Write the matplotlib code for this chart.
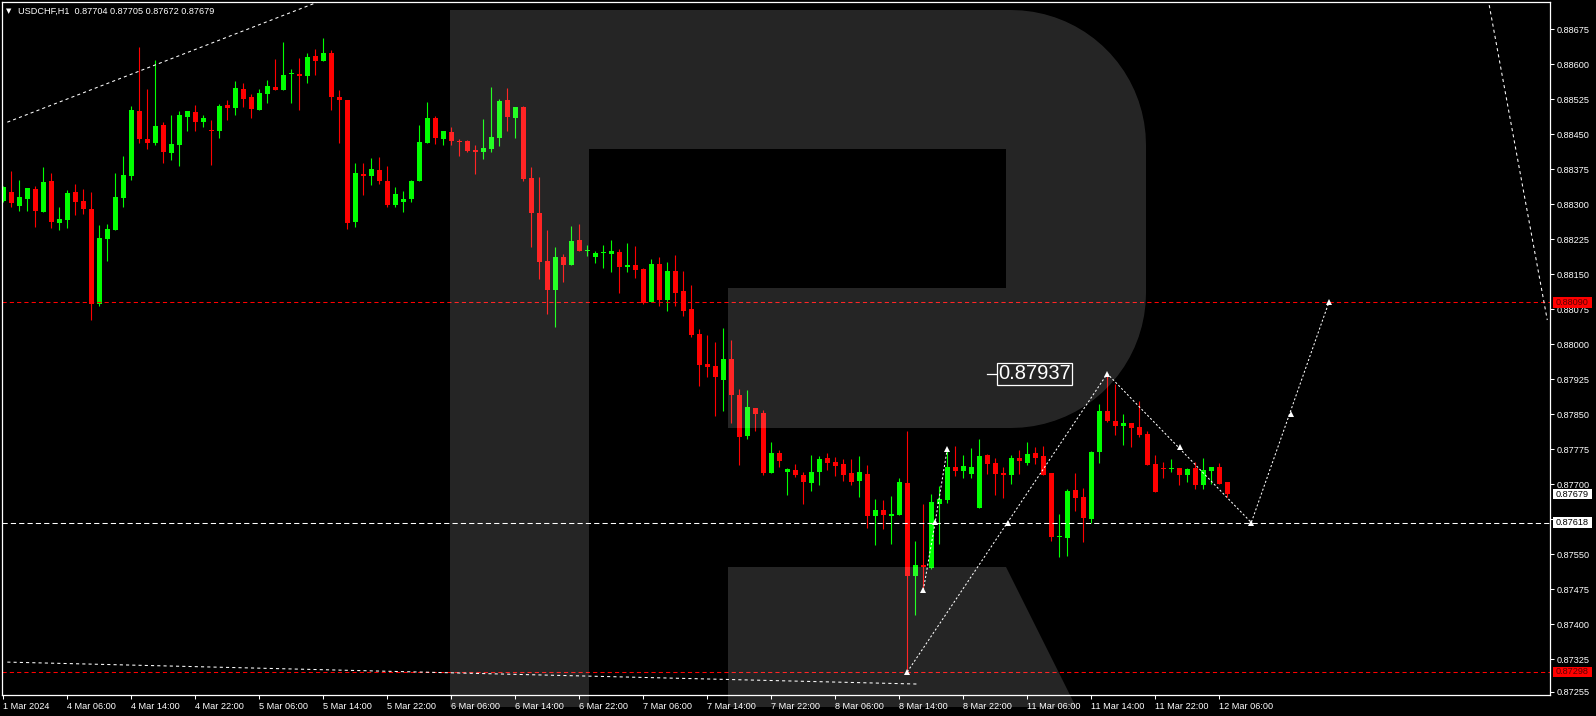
import numpy as np
import matplotlib
matplotlib.use("Agg")
import matplotlib.pyplot as plt
from matplotlib.path import Path
from matplotlib.patches import PathPatch, Rectangle
from matplotlib.transforms import Affine2D

plt.rcParams["font.family"] = ["Liberation Sans", "DejaVu Sans"]

# USDCHF H1 candles (index 0 = 1 Mar 22:00)
opens = [
    0.88308, 0.88326, 0.88297, 0.88311, 0.88333, 0.88284, 0.88350, 0.88261, 0.88266, 0.88326,
    0.88307, 0.88290, 0.88087, 0.88226, 0.88246, 0.88314, 0.88361, 0.88500, 0.88440, 0.88432,
    0.88470, 0.88411, 0.88428, 0.88488, 0.88498, 0.88477, 0.88459, 0.88458, 0.88513, 0.88507,
    0.88547, 0.88530, 0.88503, 0.88537, 0.88551, 0.88546, 0.88579, 0.88579, 0.88576, 0.88618,
    0.88608, 0.88624, 0.88530, 0.88524, 0.88263, 0.88366, 0.88361, 0.88374, 0.88350, 0.88299,
    0.88306, 0.88312, 0.88349, 0.88431, 0.88485, 0.88440, 0.88455, 0.88436, 0.88436, 0.88417,
    0.88413, 0.88419, 0.88443, 0.88524, 0.88484, 0.88509, 0.88356, 0.88281, 0.88178, 0.88117,
    0.88187, 0.88171, 0.88224, 0.88199, 0.88188, 0.88195, 0.88194, 0.88198, 0.88166, 0.88170,
    0.88161, 0.88091, 0.88172, 0.88096, 0.88157, 0.88114, 0.88076, 0.88022, 0.87958, 0.87954,
    0.87924, 0.87969, 0.87891, 0.87804, 0.87864, 0.87853, 0.87725, 0.87767, 0.87727, 0.87731,
    0.87720, 0.87703, 0.87726, 0.87756, 0.87748, 0.87744, 0.87724, 0.87707, 0.87722, 0.87632,
    0.87645, 0.87632, 0.87634, 0.87703, 0.87504, 0.87527, 0.87521, 0.87658, 0.87666, 0.87737,
    0.87729, 0.87722, 0.87649, 0.87763, 0.87746, 0.87724, 0.87719, 0.87756, 0.87746, 0.87767,
    0.87761, 0.87724, 0.87588, 0.87586, 0.87688, 0.87673, 0.87626, 0.87770, 0.87857, 0.87836,
    0.87824, 0.87831, 0.87823, 0.87808, 0.87744, 0.87734, 0.87732, 0.87735, 0.87721, 0.87734,
    0.87699, 0.87729, 0.87737, 0.87704,
]
highs = [
    0.88340, 0.88371, 0.88352, 0.88336, 0.88340, 0.88380, 0.88367, 0.88294, 0.88331, 0.88344,
    0.88333, 0.88326, 0.88256, 0.88258, 0.88367, 0.88404, 0.88511, 0.88637, 0.88547, 0.88609,
    0.88476, 0.88491, 0.88500, 0.88500, 0.88513, 0.88491, 0.88481, 0.88515, 0.88524, 0.88564,
    0.88560, 0.88536, 0.88547, 0.88566, 0.88611, 0.88648, 0.88590, 0.88614, 0.88624, 0.88633,
    0.88656, 0.88631, 0.88545, 0.88524, 0.88389, 0.88389, 0.88399, 0.88401, 0.88382, 0.88337,
    0.88329, 0.88352, 0.88470, 0.88519, 0.88489, 0.88457, 0.88466, 0.88440, 0.88438, 0.88427,
    0.88483, 0.88551, 0.88526, 0.88549, 0.88509, 0.88511, 0.88380, 0.88359, 0.88245, 0.88209,
    0.88194, 0.88254, 0.88258, 0.88213, 0.88200, 0.88213, 0.88224, 0.88204, 0.88217, 0.88211,
    0.88164, 0.88183, 0.88187, 0.88176, 0.88191, 0.88157, 0.88127, 0.88033, 0.88020, 0.88005,
    0.88035, 0.88009, 0.87904, 0.87902, 0.87864, 0.87859, 0.87791, 0.87773, 0.87735, 0.87744,
    0.87726, 0.87763, 0.87761, 0.87767, 0.87759, 0.87754, 0.87754, 0.87761, 0.87741, 0.87669,
    0.87666, 0.87675, 0.87714, 0.87814, 0.87579, 0.87658, 0.87679, 0.87696, 0.87774, 0.87782,
    0.87763, 0.87778, 0.87797, 0.87765, 0.87756, 0.87737, 0.87763, 0.87774, 0.87791, 0.87780,
    0.87782, 0.87724, 0.87637, 0.87690, 0.87724, 0.87692, 0.87771, 0.87872, 0.87937, 0.87915,
    0.87851, 0.87831, 0.87878, 0.87814, 0.87763, 0.87748, 0.87754, 0.87736, 0.87734, 0.87748,
    0.87756, 0.87737, 0.87746, 0.87705,
]
lows = [
    0.88306, 0.88295, 0.88286, 0.88286, 0.88252, 0.88284, 0.88250, 0.88246, 0.88250, 0.88277,
    0.88280, 0.88052, 0.88083, 0.88179, 0.88246, 0.88295, 0.88353, 0.88432, 0.88419, 0.88428,
    0.88389, 0.88396, 0.88383, 0.88458, 0.88458, 0.88466, 0.88385, 0.88443, 0.88481, 0.88492,
    0.88509, 0.88486, 0.88503, 0.88518, 0.88544, 0.88546, 0.88518, 0.88503, 0.88561, 0.88578,
    0.88608, 0.88503, 0.88432, 0.88248, 0.88252, 0.88321, 0.88342, 0.88344, 0.88295, 0.88295,
    0.88284, 0.88306, 0.88349, 0.88431, 0.88430, 0.88428, 0.88428, 0.88404, 0.88413, 0.88366,
    0.88398, 0.88413, 0.88426, 0.88458, 0.88443, 0.88351, 0.88209, 0.88139, 0.88064, 0.88038,
    0.88134, 0.88169, 0.88199, 0.88190, 0.88175, 0.88164, 0.88156, 0.88111, 0.88156, 0.88143,
    0.88087, 0.88091, 0.88083, 0.88072, 0.88083, 0.88061, 0.88015, 0.87911, 0.87931, 0.87847,
    0.87858, 0.87832, 0.87742, 0.87798, 0.87815, 0.87721, 0.87725, 0.87738, 0.87677, 0.87716,
    0.87658, 0.87686, 0.87699, 0.87731, 0.87718, 0.87707, 0.87699, 0.87673, 0.87606, 0.87570,
    0.87604, 0.87572, 0.87634, 0.87298, 0.87420, 0.87474, 0.87519, 0.87572, 0.87660, 0.87718,
    0.87714, 0.87714, 0.87649, 0.87722, 0.87677, 0.87671, 0.87701, 0.87723, 0.87742, 0.87744,
    0.87719, 0.87579, 0.87545, 0.87547, 0.87643, 0.87577, 0.87618, 0.87746, 0.87834, 0.87806,
    0.87785, 0.87781, 0.87802, 0.87742, 0.87684, 0.87714, 0.87727, 0.87699, 0.87704, 0.87691,
    0.87691, 0.87701, 0.87701, 0.87672,
]
closes = [
    0.88338, 0.88303, 0.88316, 0.88335, 0.88286, 0.88348, 0.88263, 0.88269, 0.88324, 0.88306,
    0.88289, 0.88087, 0.88228, 0.88247, 0.88316, 0.88363, 0.88502, 0.88441, 0.88432, 0.88468,
    0.88413, 0.88429, 0.88491, 0.88500, 0.88477, 0.88485, 0.88458, 0.88511, 0.88507, 0.88549,
    0.88526, 0.88505, 0.88539, 0.88554, 0.88546, 0.88577, 0.88580, 0.88574, 0.88616, 0.88608,
    0.88624, 0.88529, 0.88524, 0.88261, 0.88367, 0.88361, 0.88376, 0.88349, 0.88299, 0.88322,
    0.88311, 0.88350, 0.88434, 0.88485, 0.88443, 0.88457, 0.88436, 0.88434, 0.88414, 0.88413,
    0.88421, 0.88444, 0.88521, 0.88488, 0.88509, 0.88355, 0.88282, 0.88177, 0.88117, 0.88187,
    0.88171, 0.88221, 0.88199, 0.88201, 0.88196, 0.88196, 0.88200, 0.88166, 0.88170, 0.88160,
    0.88089, 0.88172, 0.88096, 0.88157, 0.88111, 0.88072, 0.88021, 0.87956, 0.87952, 0.87931,
    0.87969, 0.87892, 0.87802, 0.87866, 0.87851, 0.87725, 0.87767, 0.87750, 0.87733, 0.87719,
    0.87706, 0.87726, 0.87754, 0.87746, 0.87739, 0.87720, 0.87705, 0.87726, 0.87632, 0.87645,
    0.87634, 0.87636, 0.87705, 0.87504, 0.87527, 0.87523, 0.87662, 0.87669, 0.87737, 0.87729,
    0.87739, 0.87737, 0.87761, 0.87744, 0.87722, 0.87719, 0.87756, 0.87749, 0.87765, 0.87757,
    0.87721, 0.87588, 0.87589, 0.87686, 0.87671, 0.87628, 0.87769, 0.87857, 0.87836, 0.87824,
    0.87831, 0.87821, 0.87806, 0.87742, 0.87684, 0.87732, 0.87736, 0.87721, 0.87733, 0.87698,
    0.87731, 0.87737, 0.87701, 0.87679,
]

time_labels = ["1 Mar 2024", "4 Mar 06:00", "4 Mar 14:00", "4 Mar 22:00", "5 Mar 06:00",
               "5 Mar 14:00", "5 Mar 22:00", "6 Mar 06:00", "6 Mar 14:00", "6 Mar 22:00",
               "7 Mar 06:00", "7 Mar 14:00", "7 Mar 22:00", "8 Mar 06:00", "8 Mar 14:00",
               "8 Mar 22:00", "11 Mar 06:00", "11 Mar 14:00", "11 Mar 22:00", "12 Mar 06:00"]
price_ticks = [0.88675, 0.88600, 0.88525, 0.88450, 0.88375, 0.88300, 0.88225, 0.88150,
               0.88075, 0.88000, 0.87925, 0.87850, 0.87775, 0.87700, 0.87625, 0.87550,
               0.87475, 0.87400, 0.87325, 0.87255]

# drawn levels and forecast
resistance = 0.88090
support = 0.87298
pivot = 0.87618
peak_label = 0.87937
forecast_x = [113, 138, 156, 165.7]
forecast_y = [0.87298, 0.87937, 0.87618, 0.88090]
forecast_mark_x = [113, 125.6, 138, 147.1, 156, 161, 165.7]
forecast_mark_y = [0.87298, 0.87618, 0.87937, 0.87781, 0.87618, 0.87850, 0.88090]
small_path_x = [115, 116.5, 118]
small_path_y = [0.87473, 0.87620, 0.87776]
channel_top_x = [0.5, 40.0]
channel_top_y = [0.88476, 0.88738]
channel_low_x = [0.5, 114.2]
channel_low_y = [0.87319, 0.87272]
channel_right_x = [185.6, 193.0]
channel_right_y = [0.88740, 0.88052]

o = np.array(opens); h = np.array(highs); l = np.array(lows); c = np.array(closes)
idx = np.arange(len(o))
up = c >= o

W, H = 1596, 716
fig = plt.figure(figsize=(W / 100, H / 100), dpi=100, facecolor="black")
ax = fig.add_axes([2.3 / W, 1 - 695 / H, (1550 - 2.3) / W, (695 - 2.3) / H])
ax.set_facecolor("black")
ax.set_xlim(-0.125, 193.34)
ax.set_ylim(0.872485, 0.887329)

green, red = "#00ff00", "#ff0000"
ax.vlines(idx[up], l[up], h[up], color=green, lw=0.8)
ax.vlines(idx[~up], l[~up], h[~up], color=red, lw=0.8)
body = np.maximum(np.abs(c - o), 0.000022)
ax.bar(idx, body, bottom=np.minimum(o, c), width=0.62,
       color=np.where(up, green, red), linewidth=0)

# levels
ax.axhline(resistance, color=red, lw=0.75, dashes=(4, 3))
ax.axhline(support, color=red, lw=0.75, dashes=(4, 3))
ax.axhline(pivot, color="white", lw=0.75, dashes=(5, 3))

# channel lines
for xs, ys in [(channel_top_x, channel_top_y), (channel_low_x, channel_low_y),
               (channel_right_x, channel_right_y)]:
    ax.plot(xs, ys, color="white", lw=0.75, dashes=(3, 3))

# forecast path
ax.plot(forecast_x, forecast_y, color="white", lw=0.75, dashes=(2, 2))
ax.plot(small_path_x, small_path_y, color="white", lw=0.75, dashes=(2, 2))
ax.plot(forecast_mark_x, forecast_mark_y, ls="none", marker="^", ms=4, color="white", mew=0)
ax.plot(small_path_x, small_path_y, ls="none", marker="^", ms=4, color="white", mew=0)

# price label near the peak
ax.plot([122.95, 124.2], [peak_label, peak_label], color="white", lw=0.9)
ax.text(128.9, peak_label, f"{peak_label:.5f}", ha="center", va="center", color="white",
        fontsize=14.5, bbox=dict(boxstyle="square,pad=0.08", facecolor="black",
                                 edgecolor="white", lw=0.9), zorder=6)

# axes styling
for sp in ax.spines.values():
    sp.set_color("white")
    sp.set_linewidth(0.9)
ax.yaxis.tick_right()
ax.set_yticks(price_ticks)
ax.set_yticklabels([f"{v:.5f}" for v in price_ticks])
ax.set_xticks(idx[::8])
ax.set_xticklabels(time_labels, ha="left")
ax.tick_params(colors="white", labelcolor="white", labelsize=6.6, length=3, width=0.75, pad=2)


def price_box(p, face, txt):
    tr = ax.get_yaxis_transform()
    ax.add_patch(Rectangle((1.0017, p - 0.000114), 0.0254, 0.000228, transform=tr,
                           facecolor=face, edgecolor="none", clip_on=False, zorder=5))
    ax.text(1.0144, p, f"{p:.5f}", transform=tr, ha="center", va="center", color=txt,
            fontsize=6.6, clip_on=False, zorder=6)


price_box(resistance, red, "#5a0000")
price_box(support, red, "#5a0000")
price_box(pivot, "white", "black")
price_box(c[-1], "white", "black")

# header
fig.text(9 / W, 1 - 11 / H, "▼", family="DejaVu Sans", fontsize=5, color="white",
         ha="center", va="center")
fig.text(18 / W, 1 - 11.5 / H,
         f"USDCHF,H1  {o[-1]:.5f} {h[-1]:.5f} {l[-1]:.5f} {c[-1]:.5f}",
         fontsize=6.6, color="white", ha="left", va="center")

# watermark "R"
r = 135
th = np.linspace(0, np.pi / 2, 20)
outer = [(450, 10), (1011, 10)]
outer += [(1011 + r * np.sin(t), 145 - r * np.cos(t)) for t in th]
outer += [(1146, 293)]
outer += [(1011 + r * np.cos(t), 293 + r * np.sin(t)) for t in th]
outer += [(728, 428), (728, 288), (1006, 288), (1006, 149), (589, 149), (589, 707),
          (450, 707), (450, 10)]
leg = [(728, 567), (1006, 567), (1076, 707), (728, 707), (728, 567)]
verts = outer + leg
codes = ([Path.MOVETO] + [Path.LINETO] * (len(outer) - 2) + [Path.CLOSEPOLY]
         + [Path.MOVETO] + [Path.LINETO] * (len(leg) - 2) + [Path.CLOSEPOLY])
px = Affine2D().scale(1 / W, -1 / H).translate(0, 1) + fig.transFigure
fig.add_artist(PathPatch(Path(verts, codes), facecolor="white", alpha=0.15,
                         edgecolor="none", transform=px, zorder=10))

fig.savefig("out.png", dpi=100, facecolor="black")
